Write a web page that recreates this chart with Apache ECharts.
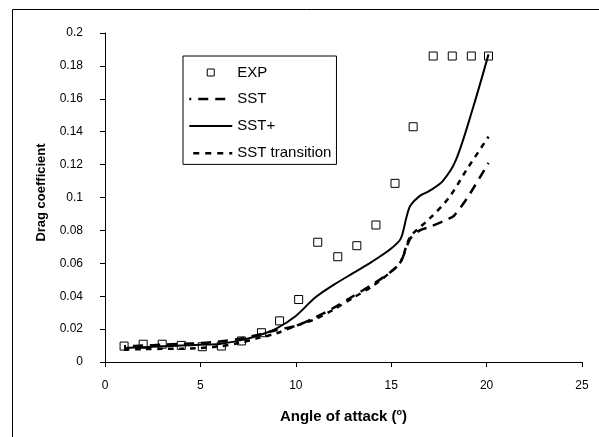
<!DOCTYPE html>
<html>
<head>
<meta charset="utf-8">
<script src="https://cdn.jsdelivr.net/npm/echarts@6/dist/echarts.min.js"></script>
<style>
  html, body { margin: 0; padding: 0; background: #fff; }
  #chart { width: 599px; height: 437px; }
</style>
</head>
<body>
<div id="chart"></div>
<script>
// Experimental drag coefficient
const angleExp = [1, 2, 3, 4, 5.1, 6.1, 7.15, 8.2, 9.15, 10.15, 11.15, 12.2, 13.2, 14.2, 15.2, 16.15, 17.2, 18.2, 19.2, 20.1];
const cdExp = [0.0097, 0.0108, 0.0108, 0.0101, 0.0093, 0.0097, 0.0128, 0.0178, 0.025, 0.038, 0.0728, 0.064, 0.0707, 0.0833, 0.1086, 0.143, 0.186, 0.186, 0.186, 0.186];

// SST model
const angleSst = [1, 2, 3, 4, 5, 6, 7, 8, 9, 10, 11, 12, 13, 14, 15, 15.5, 16, 16.5, 17, 18, 18.3, 19, 20.1];
const cdSst = [0.0095, 0.0100, 0.0105, 0.011, 0.0115, 0.0125, 0.014, 0.0165, 0.0195, 0.022, 0.027, 0.033, 0.040, 0.047, 0.055, 0.061, 0.075, 0.080, 0.082, 0.087, 0.089, 0.100, 0.121];

// SST+ model
const angleSstPlus = [1, 2, 3, 4, 5, 6, 7, 8, 9, 10, 11, 12, 13, 14, 15, 15.5, 15.8, 16, 16.5, 17, 17.7, 18.4, 19.3, 20.1];
const cdSstPlus = [0.0085, 0.009, 0.0095, 0.010, 0.0105, 0.011, 0.013, 0.016, 0.0205, 0.028, 0.039, 0.047, 0.054, 0.061, 0.069, 0.075, 0.088, 0.095, 0.101, 0.104, 0.11, 0.123, 0.155, 0.187];

// SST transition model
const angleTrans = [1, 2, 3, 4, 5, 6, 7, 8, 9, 10, 11, 12, 13, 14, 15, 15.5, 16, 17, 18, 19, 20.1];
const cdTrans = [0.0075, 0.0078, 0.008, 0.008, 0.0085, 0.0095, 0.0115, 0.0145, 0.0175, 0.022, 0.026, 0.032, 0.039, 0.046, 0.055, 0.061, 0.076, 0.087, 0.0995, 0.1177, 0.137];

const xTicks = { min: 0, max: 25, interval: 5 };
const yTicks = { min: 0, max: 0.2, interval: 0.02 };

const FONT = '"Liberation Sans", Arial, sans-serif';
const CLEAR = 'rgba(0,0,0,0)';
const pair = (xs, ys) => xs.map((x, i) => [x, ys[i]]);

// line styles shared by the series and their legend keys
const DASH_SST = [10, 7];
const DASH_TRANS = [5.5, 5.5];
const LINE_KEY = 'path://M0,0M0,7H43M43,14';

const chart = echarts.init(document.getElementById('chart'), null, { renderer: 'canvas' });

chart.setOption({
  animation: false,
  backgroundColor: '#fff',
  textStyle: { fontFamily: FONT },
  graphic: [{
    // outer chart frame (open on the right and bottom)
    type: 'rect',
    shape: { x: 12.5, y: 9.5, width: 800, height: 800 },
    style: { fill: 'none', stroke: '#000', lineWidth: 1 },
    silent: true,
    z: -10
  }],
  grid: { left: 105, right: 17, top: 33, bottom: 75 },
  legend: {
    orient: 'vertical',
    left: 183,
    top: 56,
    padding: [9, 5, 3, 5],
    itemGap: 10.8,
    itemWidth: 43,
    itemHeight: 14,
    borderColor: '#000',
    borderWidth: 1,
    backgroundColor: '#fff',
    textStyle: { fontFamily: FONT, fontSize: 15, color: '#000', lineHeight: 14 },
    data: [
      { name: 'EXP', icon: 'path://M0,0M3.5,3.5h7v7h-7zM14,14',
        itemStyle: { color: CLEAR, borderColor: '#000', borderWidth: 1, borderType: 'solid' } },
      { name: 'SST', icon: LINE_KEY,
        itemStyle: { color: CLEAR, borderColor: '#000', borderWidth: 2.5, borderType: DASH_SST, borderDashOffset: 8 } },
      { name: 'SST+', icon: LINE_KEY,
        itemStyle: { color: CLEAR, borderColor: '#000', borderWidth: 2, borderType: 'solid' } },
      { name: 'SST transition', icon: LINE_KEY,
        itemStyle: { color: CLEAR, borderColor: '#000', borderWidth: 2.5, borderType: [6, 6] } }
    ]
  },
  xAxis: {
    type: 'value',
    min: xTicks.min, max: xTicks.max, interval: xTicks.interval,
    name: 'Angle of attack ({sup|o})',
    nameLocation: 'middle',
    nameGap: 46,
    nameTextStyle: {
      fontFamily: FONT, fontSize: 15, fontWeight: 'bold', color: '#000',
      rich: { sup: { fontFamily: FONT, fontSize: 9, fontWeight: 'bold', color: '#000', verticalAlign: 'top', padding: [0, 0, 8, 0] } }
    },
    axisLine: { lineStyle: { color: '#000', width: 1 } },
    axisTick: { inside: false, length: 5, lineStyle: { color: '#000' } },
    axisLabel: { fontFamily: FONT, fontSize: 12, color: '#000', margin: 18 },
    splitLine: { show: false }
  },
  yAxis: {
    type: 'value',
    min: yTicks.min, max: yTicks.max, interval: yTicks.interval,
    name: 'Drag coefficient',
    nameLocation: 'middle',
    nameGap: 57,
    nameTextStyle: { fontFamily: FONT, fontSize: 13, fontWeight: 'bold', color: '#000', padding: [0, 0, 0, 10] },
    axisLine: { show: true, lineStyle: { color: '#000', width: 1 } },
    axisTick: { show: true, inside: false, length: 5, lineStyle: { color: '#000' } },
    axisLabel: { fontFamily: FONT, fontSize: 12, color: '#000', margin: 22 },
    splitLine: { show: false }
  },
  series: [
    {
      name: 'SST',
      type: 'line',
      data: pair(angleSst, cdSst),
      showSymbol: false,
      smooth: 0.3,
      lineStyle: { color: '#000', width: 2.5, type: DASH_SST, dashOffset: 8 },
      itemStyle: { color: CLEAR },
      z: 2
    },
    {
      name: 'SST+',
      type: 'line',
      data: pair(angleSstPlus, cdSstPlus),
      showSymbol: false,
      smooth: 0.3,
      lineStyle: { color: '#000', width: 2, type: 'solid' },
      itemStyle: { color: CLEAR },
      z: 2
    },
    {
      name: 'SST transition',
      type: 'line',
      data: pair(angleTrans, cdTrans),
      showSymbol: false,
      smooth: 0.3,
      lineStyle: { color: '#000', width: 2.5, type: DASH_TRANS },
      itemStyle: { color: CLEAR },
      z: 2
    },
    {
      name: 'EXP',
      type: 'scatter',
      data: pair(angleExp, cdExp),
      symbol: 'rect',
      symbolSize: 8,
      itemStyle: { color: CLEAR, borderColor: '#000', borderWidth: 1, opacity: 1 },
      z: 3
    }
  ]
});
</script>
</body>
</html>
